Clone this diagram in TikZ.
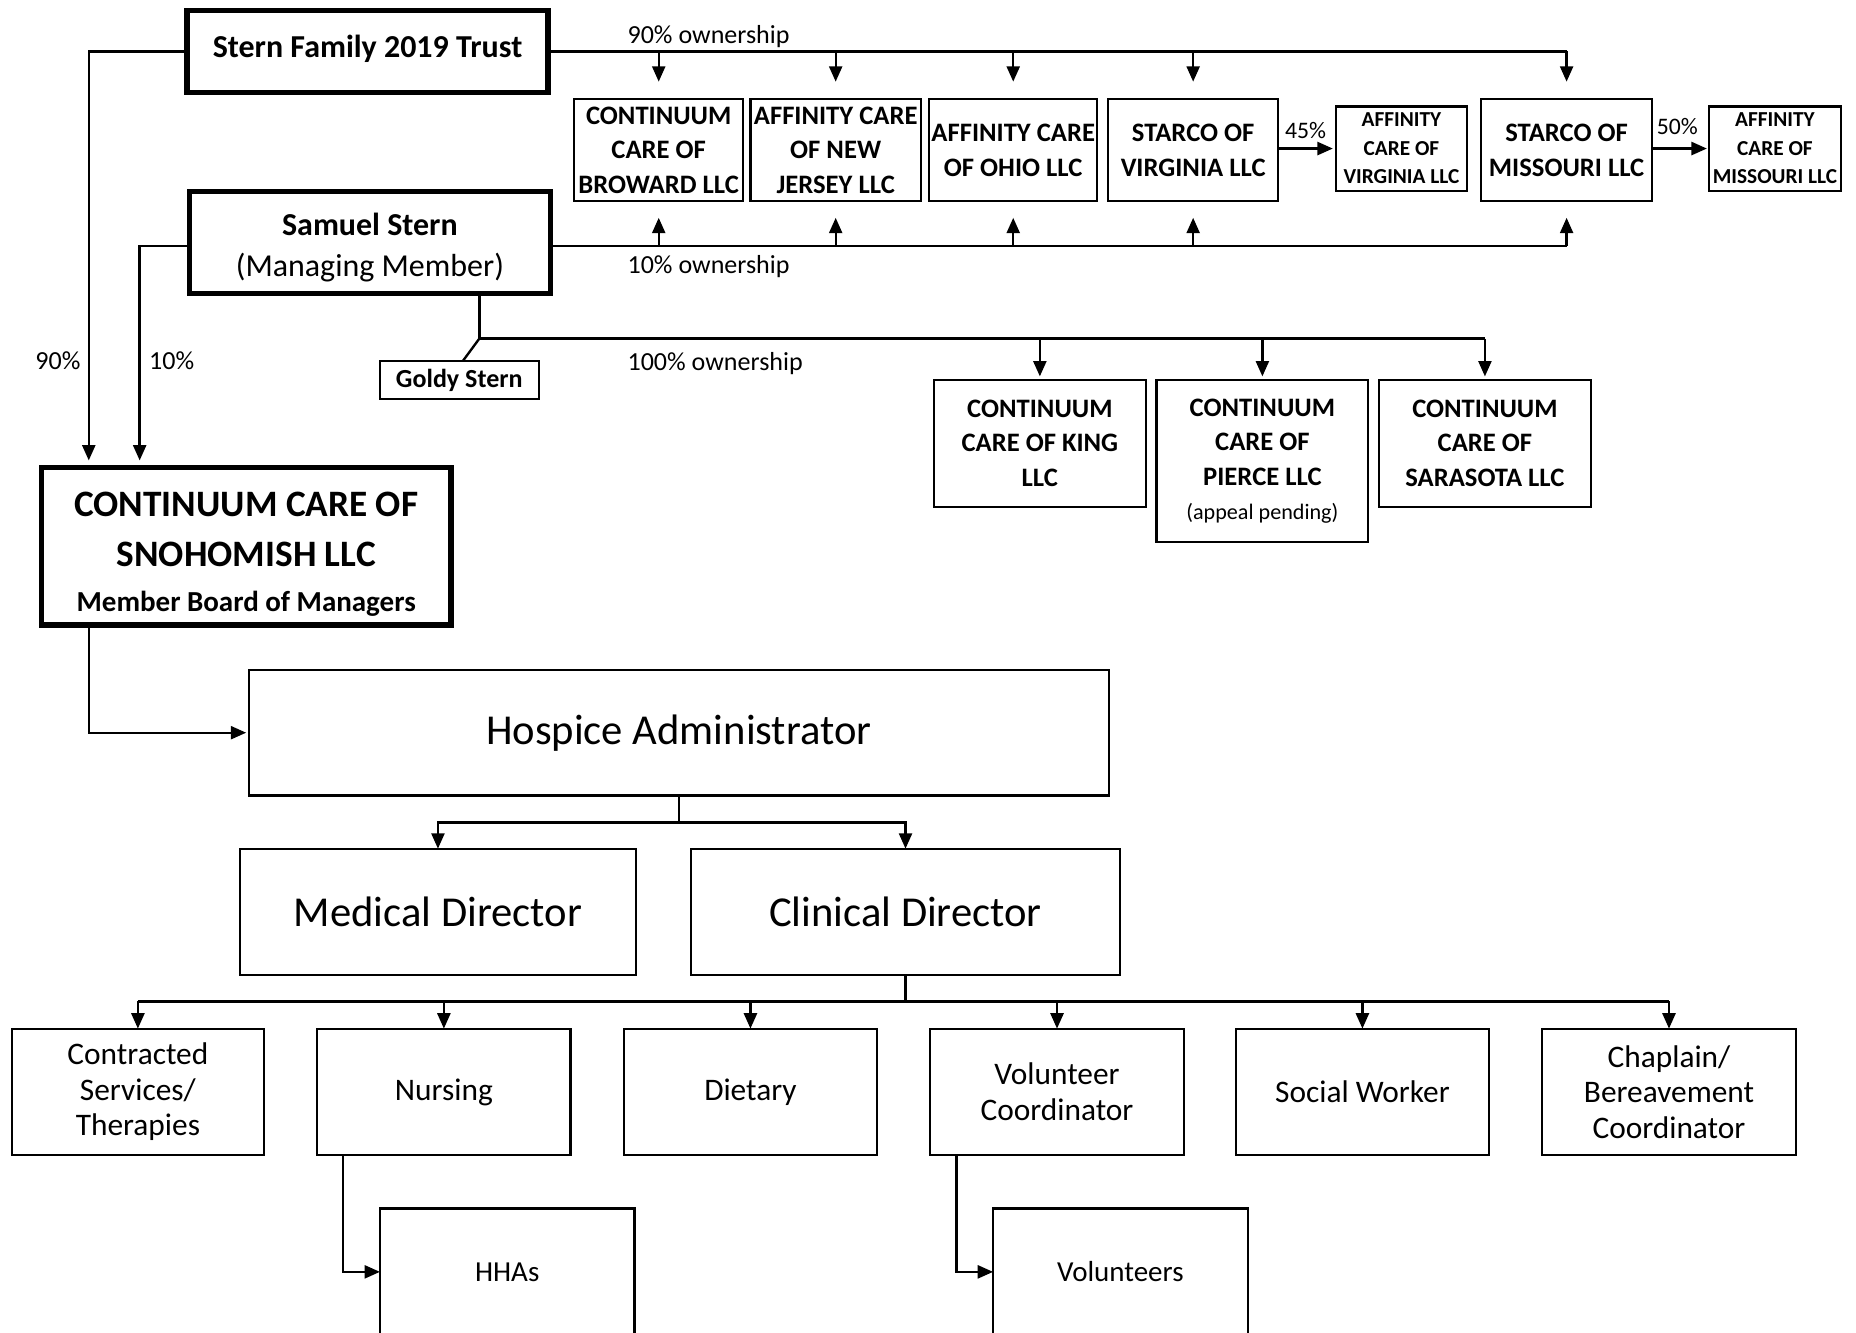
\documentclass[tikz,border=0pt]{standalone}
\usepackage{fontspec}
\setmainfont{Carlito}
\usetikzlibrary{arrows.meta}
\begin{document}
\begin{tikzpicture}[x=1pt,y=-1pt,
  bx/.style={draw, line width=1.8pt, inner sep=0pt, outer sep=0pt, align=center, anchor=north west},
  thk/.style={bx, line width=4.5pt},
  ent/.style={font=\bfseries\fontsize{22.5}{29}\selectfont},
  sment/.style={font=\bfseries\fontsize{18}{24}\selectfont},
  big/.style={font=\fontsize{36}{43}\selectfont},
  dept/.style={font=\fontsize{26.5}{30}\selectfont},
  lbl/.style={font=\fontsize{22}{26}\selectfont, inner sep=0pt},
  ln/.style={line width=2pt},
  arr/.style={line width=2pt, -{Triangle[length=13pt,width=11pt]}}]
\useasboundingbox (0,0) rectangle (1568,1126);
\clip (0,0) rectangle (1568,1126);

% owners
\node[thk, minimum width=305pt, minimum height=69pt, font=\bfseries\fontsize{27}{33}\selectfont] (trust) at (158,9) {\raisebox{9pt}{Stern Family 2019 Trust}};
\node[thk, minimum width=305pt, minimum height=86pt, font=\bfseries\fontsize{27}{34}\selectfont] (sam) at (160,162) {\rule{0pt}{27pt}Samuel Stern\\{\mdseries (Managing Member)}};
\node[bx, minimum width=134pt, minimum height=32pt, font=\bfseries\fontsize{22}{26}\selectfont] (goldy) at (321,305) {Goldy Stern};
\node[thk, minimum width=346pt, minimum height=133pt, font=\bfseries\fontsize{31.5}{42}\selectfont] (sno) at (35,395) {\rule{0pt}{34pt}CONTINUUM CARE OF\\SNOHOMISH LLC\\[-4pt]{\fontsize{24.5}{30}\selectfont Member Board of Managers}};

% entity row
\node[bx, ent, minimum width=143pt, minimum height=86pt] (bro) at (485,84) {CONTINUUM\\CARE OF\\BROWARD LLC};
\node[bx, ent, minimum width=144pt, minimum height=86pt] (nj) at (634,84) {AFFINITY CARE\\OF NEW\\JERSEY LLC};
\node[bx, ent, minimum width=142pt, minimum height=86pt] (oh) at (785,84) {AFFINITY CARE\\OF OHIO LLC};
\node[bx, ent, minimum width=144pt, minimum height=86pt] (va) at (936,84) {STARCO OF\\VIRGINIA LLC};
\node[bx, sment, minimum width=110pt, minimum height=71pt] (ava) at (1129,90) {AFFINITY\\CARE OF\\VIRGINIA LLC};
\node[bx, ent, minimum width=145pt, minimum height=86pt] (mo) at (1251,84) {STARCO OF\\MISSOURI LLC};
\node[bx, sment, minimum width=111pt, minimum height=71pt] (amo) at (1444,90) {AFFINITY\\CARE OF\\MISSOURI LLC};

% 100% row
\node[bx, ent, minimum width=179pt, minimum height=107pt] (king) at (789,321) {CONTINUUM\\CARE OF KING\\LLC};
\node[bx, ent, minimum width=179pt, minimum height=137pt] (pie) at (977,321) {CONTINUUM\\CARE OF\\PIERCE LLC\\{\mdseries\fontsize{18.7}{29}\selectfont (appeal pending)}};
\node[bx, ent, minimum width=179pt, minimum height=107pt] (sar) at (1165,321) {CONTINUUM\\CARE OF\\SARASOTA LLC};

% hospice org
\node[bx, big, minimum width=727pt, minimum height=106pt] (hosp) at (210,566) {Hospice Administrator};
\node[bx, big, minimum width=334pt, minimum height=107pt] (med) at (203,717) {Medical Director};
\node[bx, big, minimum width=362pt, minimum height=107pt] (cli) at (584,717) {Clinical Director};

\node[bx, dept, minimum width=213pt, minimum height=107pt] (con) at (10,869) {Contracted\\Services/\\Therapies};
\node[bx, dept, minimum width=214pt, minimum height=107pt] (nur) at (268,869) {Nursing};
\node[bx, dept, minimum width=214pt, minimum height=107pt] (die) at (527,869) {Dietary};
\node[bx, dept, minimum width=214pt, minimum height=107pt] (vco) at (786,869) {Volunteer\\Coordinator};
\node[bx, dept, minimum width=214pt, minimum height=107pt] (soc) at (1044,869) {Social Worker};
\node[bx, dept, minimum width=214pt, minimum height=107pt] (cha) at (1303,869) {Chaplain/\\Bereavement\\Coordinator};

\node[bx, font=\fontsize{24.5}{30}\selectfont, minimum width=215pt, minimum height=107pt] (hha) at (321,1021) {HHAs};
\node[bx, font=\fontsize{24.5}{30}\selectfont, minimum width=215pt, minimum height=107pt] (vol) at (839,1021) {Volunteers};

% labels
\node[lbl, anchor=west] (l90o) at (530,31) {90\% ownership};
\node[lbl, anchor=west] (l10o) at (530,225) {10\% ownership};
\node[lbl, anchor=west] (l100o) at (530,307) {100\% ownership};
\node[lbl] (l90) at (49,305) {90\%};
\node[lbl] (l10) at (145,305) {10\%};
\node[lbl, font=\fontsize{20}{24}\selectfont] (l45) at (1103,110) {45\%};
\node[lbl, font=\fontsize{20}{24}\selectfont] (l50) at (1417,107) {50\%};

% 90% ownership bus
\draw[ln] (trust.east) -- (trust.east -| mo.north);
\foreach \n in {bro,nj,oh,va,mo}
  \draw[arr, shorten >=15pt] (trust.east -| \n.north) -- (\n.north);

% 10% ownership bus
\coordinate (sb) at ([yshift=-3pt]sam.east);
\draw[ln] (sb) -- (sb -| mo.south);
\foreach \n in {bro,nj,oh,va,mo}
  \draw[arr, shorten >=14pt] (sb -| \n.south) -- (\n.south);

% 45% / 50%
\draw[arr, shorten >=3pt] (va.east |- ava.west) -- (ava.west);
\draw[arr, shorten >=2pt] (mo.east |- amo.west) -- (amo.west);

% left owners to Snohomish
\draw[arr, shorten >=6pt] (trust.west) -| ([xshift=40pt]sno.north west);
\draw[arr, shorten >=6pt] (sam.west |- sb) -| ([xshift=83pt]sno.north west);

% 100% ownership
\coordinate (j0) at ([xshift=245pt]sam.south west);
\coordinate (j) at ([xshift=245pt,yshift=-38pt]sam.south west);
\draw[ln] (j0) -- (j) -- (j -| sar.north);
\foreach \n in {king,pie,sar}
  \draw[arr, shorten >=3pt] (j -| \n.north) -- (\n.north);
\draw[ln] (j) -- ([xshift=3pt]goldy.north);

% Snohomish to Hospice
\draw[arr, shorten >=2pt] ([xshift=40pt]sno.south west) |- (hosp.west);

% Hospice to directors
\coordinate (h1) at ([yshift=-23pt]hosp.south);
\draw[ln] (hosp.south) -- (h1);
\draw[arr] (h1) -| (med.north);
\draw[arr] (h1) -| (cli.north);

% Clinical to departments
\coordinate (c1) at ([yshift=-22pt]cli.south);
\draw[ln] (cli.south) -- (c1);
\draw[ln] (c1 -| con.north) -- (c1 -| cha.north);
\foreach \n in {con,nur,die,vco,soc,cha}
  \draw[arr] (c1 -| \n.north) -- (\n.north);

\draw[arr] ([xshift=22pt]nur.south west) |- (hha.west);
\draw[arr] ([xshift=22pt]vco.south west) |- (vol.west);
\end{tikzpicture}
\end{document}
